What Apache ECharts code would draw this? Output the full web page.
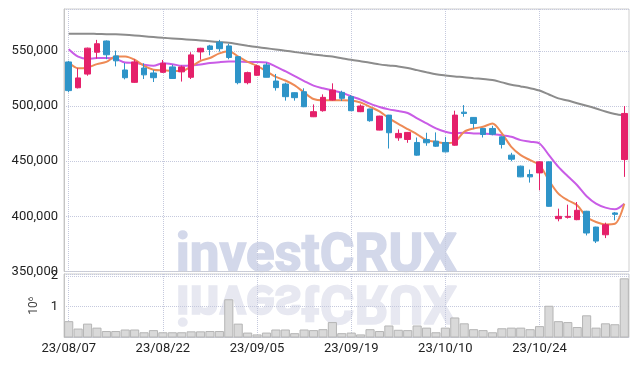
<!DOCTYPE html>
<html>
<head>
<meta charset="utf-8">
<script src="https://cdn.jsdelivr.net/npm/echarts@6/dist/echarts.min.js"></script>
<style>
  html, body { margin: 0; padding: 0; background: #fff; }
  #chart { width: 637px; height: 366px; }
</style>
</head>
<body>
<div id="chart"></div>
<script>
// trading days (YY/MM/DD)
var dates = [
  '23/08/07','23/08/08','23/08/09','23/08/10','23/08/11','23/08/14','23/08/16','23/08/17','23/08/18','23/08/21',
  '23/08/22','23/08/23','23/08/24','23/08/25','23/08/28','23/08/29','23/08/30','23/08/31','23/09/01','23/09/04',
  '23/09/05','23/09/06','23/09/07','23/09/08','23/09/11','23/09/12','23/09/13','23/09/14','23/09/15','23/09/18',
  '23/09/19','23/09/20','23/09/21','23/09/22','23/09/25','23/09/26','23/09/27','23/10/04','23/10/05','23/10/06',
  '23/10/10','23/10/11','23/10/12','23/10/13','23/10/16','23/10/17','23/10/18','23/10/19','23/10/20','23/10/23',
  '23/10/24','23/10/25','23/10/26','23/10/27','23/10/30','23/10/31','23/11/01','23/11/02','23/11/03','23/11/06'
];

// [open, close, low, high]
var ohlc = [
  [540000,514000,512500,541000],[516600,525500,516000,534300],[529000,552500,527500,553000],[548800,556500,543000,560000],[559000,546500,542500,559500],
  [545500,541000,536000,550300],[532700,525700,524200,539000],[521500,540000,521000,542400],[534500,528300,524500,538800],[530000,525700,521800,532700],
  [530600,538800,530000,541800],[535500,525000,524800,537500],[531000,535500,522200,536700],[526100,546400,524500,548800],[549100,552400,542000,552800],
  [554500,551300,546000,555500],[557900,552000,549400,560000],[554500,544000,542400,556400],[544800,521200,519700,545000],[521200,530300,519700,531200],
  [527900,536400,527500,537500],[537300,526100,526000,539400],[522700,516700,514000,529100],[520000,508500,504900,521200],[512100,507600,504900,512500],
  [513000,499400,499000,516100],[490300,494900,490000,501500],[495800,507900,494900,510600],[505500,514500,505000,520600],[512400,507000,504600,513900],
  [508500,495800,495500,510000],[494900,500000,494500,501500],[497300,486700,485800,497600],[478200,490900,478000,491200],[491800,475800,461500,492000],
  [471200,475200,468500,478800],[469700,476100,466700,476500],[467000,455500,455000,471500],[469700,466700,464000,475800],[468200,463600,463000,476100],
  [467000,458500,458000,472100],[464500,491800,464000,495800],[494500,493300,490300,500900],[489700,484200,479700,490000],[479700,474200,471500,480000],
  [479700,474500,473500,482100],[472100,465200,461500,472500],[455500,451800,450000,457600],[445500,435800,435500,446000],[437900,435800,430600,442400],
  [439400,449400,423600,449800],[449400,409100,408800,449800],[397900,400000,395500,407000],[399100,400000,398000,410600],[397000,405500,396500,413000],
  [404600,384900,382700,405000],[390300,377600,375800,390600],[383300,392400,380300,394300],[403100,401800,396400,404000],[451500,493300,435800,500000]
];

var ma5 = [
  539400,534200,535000,538000,540000,545000,544900,542000,536500,533000,
  532400,531800,531800,535800,540900,543600,547800,549700,544900,540000,
  536500,531600,526400,523200,518800,512300,506400,505200,505200,505200,
  505000,503200,499300,495200,489100,483800,479000,474400,469100,467600,
  466400,467600,476700,479700,481200,484200,475200,463000,455500,450900,
  446400,432500,420600,414600,410000,399400,394900,392700,393300,411500
];

var ma10 = [
  551600,544800,542800,543600,543600,542800,539500,539200,537400,536500,
  538800,538000,536500,536800,537600,539000,539800,540300,540300,540000,
  540000,539500,535800,531600,527200,522700,518500,516100,514200,512100,
  508800,505800,502200,499100,497000,495500,493700,488800,484200,479700,
  476700,475200,475800,475200,475200,474500,473600,472100,469100,467600,
  466100,455500,444900,436400,428200,418200,411500,407900,406400,411500
];

var maLong = [
  565500,565600,565600,565400,565200,565000,564600,564000,563300,562600,
  561900,561300,560700,560100,559500,558800,558000,557300,556000,554700,
  553500,552400,551300,550200,549000,547900,546800,545800,544900,543400,
  541900,540600,539300,537800,536800,535900,534500,532600,530700,528900,
  527800,526900,526200,525300,524500,523600,521500,519300,517800,516200,
  514100,510500,507000,505000,502500,500300,497800,495000,492800,491500
];

var volume = [
  530000,290000,450000,320000,210000,210000,260000,260000,170000,240000,
  170000,170000,170000,200000,200000,210000,210000,1240000,450000,160000,
  100000,160000,260000,260000,140000,260000,240000,270000,500000,140000,
  160000,100000,270000,210000,390000,250000,240000,390000,320000,170000,
  320000,650000,460000,270000,240000,170000,300000,320000,320000,270000,
  370000,1030000,530000,500000,340000,720000,320000,460000,430000,1920000
];

var priceTicks = { min: 350000, max: 588000, step: 50000 };
var volTicks = { min: 0, max: 2060000, step: 1000000 };

var chart = echarts.init(document.getElementById('chart'));

var gridLineColor = '#c5c9dd';
var fontFamily = 'Roboto, "Noto Sans", sans-serif';

function withComma(v) {
  return String(v).replace(/\B(?=(\d{3})+(?!\d))/g, ',');
}

function everyTenth(i) {
  return i % 10 === 0;
}

// vertical dotted lines through every 10th candle
var xSplit = {
  show: true,
  interval: everyTenth,
  alignWithLabel: true,
  lineStyle: { color: gridLineColor, type: 'dotted', width: 1 }
};

var option = {
  animation: false,
  backgroundColor: '#fff',
  graphic: [
    {
      type: 'text',
      z: -1,
      left: 175,
      top: 230,
      style: {
        text: 'investCRUX',
        fontFamily: 'Roboto',
        fontWeight: 'bold',
        fontSize: 53,
        fill: '#d3d8ea',
        stroke: '#d3d8ea',
        lineWidth: 1.5
      }
    },
    {
      type: 'text',
      z: -1,
      left: 175,
      top: 272,
      scaleY: -1,
      originY: 0,
      style: {
        text: 'investCRUX',
        fontFamily: 'Roboto',
        fontWeight: 'bold',
        fontSize: 53,
        fill: '#e7e8f1',
        stroke: '#e7e8f1',
        lineWidth: 1.5
      }
    }
  ],
  grid: [
    { left: 64, right: 8, top: 9, height: 262.5, show: true, borderColor: '#cfcfcf', borderWidth: 1 },
    { left: 64, right: 8, top: 274, height: 63.5, show: true, borderColor: '#cfcfcf', borderWidth: 1 }
  ],
  xAxis: [
    {
      type: 'category', gridIndex: 0, data: dates, boundaryGap: true,
      axisLine: { show: false },
      axisTick: { show: false, alignWithLabel: true, interval: everyTenth },
      axisLabel: { show: false, interval: everyTenth },
      splitLine: xSplit
    },
    {
      type: 'category', gridIndex: 1, data: dates, boundaryGap: true,
      axisLine: { show: false },
      axisTick: { show: false, alignWithLabel: true, interval: everyTenth },
      axisLabel: {
        show: true, margin: 5,
        interval: everyTenth,
        fontFamily: fontFamily, fontSize: 13, color: '#222'
      },
      splitLine: xSplit
    }
  ],
  yAxis: [
    {
      type: 'value', gridIndex: 0,
      min: priceTicks.min, max: priceTicks.max, interval: priceTicks.step,
      axisLine: { show: true, lineStyle: { color: '#c4c4c4' } },
      axisTick: { show: false },
      axisLabel: {
        margin: 6, showMaxLabel: false,
        fontFamily: fontFamily, fontSize: 13, color: '#222',
        formatter: withComma
      },
      splitLine: { show: true, lineStyle: { color: gridLineColor, type: 'dotted' } }
    },
    {
      type: 'value', gridIndex: 1,
      min: volTicks.min, max: volTicks.max, interval: volTicks.step,
      name: '10{s|6}',
      nameLocation: 'middle',
      nameRotate: 90,
      nameGap: 18,
      nameTextStyle: {
        fontFamily: fontFamily, fontSize: 12, color: '#444',
        rich: { s: { fontSize: 8, verticalAlign: 'top', color: '#444', padding: [0, 0, 6, 0] } }
      },
      axisLine: { show: true, lineStyle: { color: '#c4c4c4' } },
      axisTick: { show: false },
      axisLabel: {
        margin: 6, showMinLabel: false, showMaxLabel: false,
        fontFamily: fontFamily, fontSize: 13, color: '#222',
        formatter: function (v) { return v / 1000000; }
      },
      splitLine: { show: true, lineStyle: { color: gridLineColor, type: 'dotted' } }
    }
  ],
  series: [
    {
      name: 'MA long', type: 'line', xAxisIndex: 0, yAxisIndex: 0, z: 1,
      data: maLong, showSymbol: false, smooth: 0.3,
      lineStyle: { color: '#8c8c8c', width: 2 }
    },
    {
      name: 'price', type: 'candlestick', xAxisIndex: 0, yAxisIndex: 0, z: 5,
      data: ohlc, barWidth: 6,
      itemStyle: {
        color: '#e5206a', color0: '#2e94c8',
        borderColor: '#e5206a', borderColor0: '#2e94c8', borderWidth: 1
      }
    },
    {
      name: 'MA10', type: 'line', xAxisIndex: 0, yAxisIndex: 0, z: 3,
      data: ma10, showSymbol: false, smooth: 0.3,
      lineStyle: { color: '#c95ce6', width: 2 }
    },
    {
      name: 'MA5', type: 'line', xAxisIndex: 0, yAxisIndex: 0, z: 4,
      data: ma5, showSymbol: false, smooth: 0.3,
      lineStyle: { color: '#ee8a55', width: 2 }
    },
    {
      name: 'volume', type: 'bar', xAxisIndex: 1, yAxisIndex: 1, z: 3,
      data: volume, barCategoryGap: '3%',
      itemStyle: { color: '#d9d9d9', borderColor: '#b5b5b5', borderWidth: 1 }
    }
  ]
};

chart.setOption(option);
</script>
</body>
</html>
